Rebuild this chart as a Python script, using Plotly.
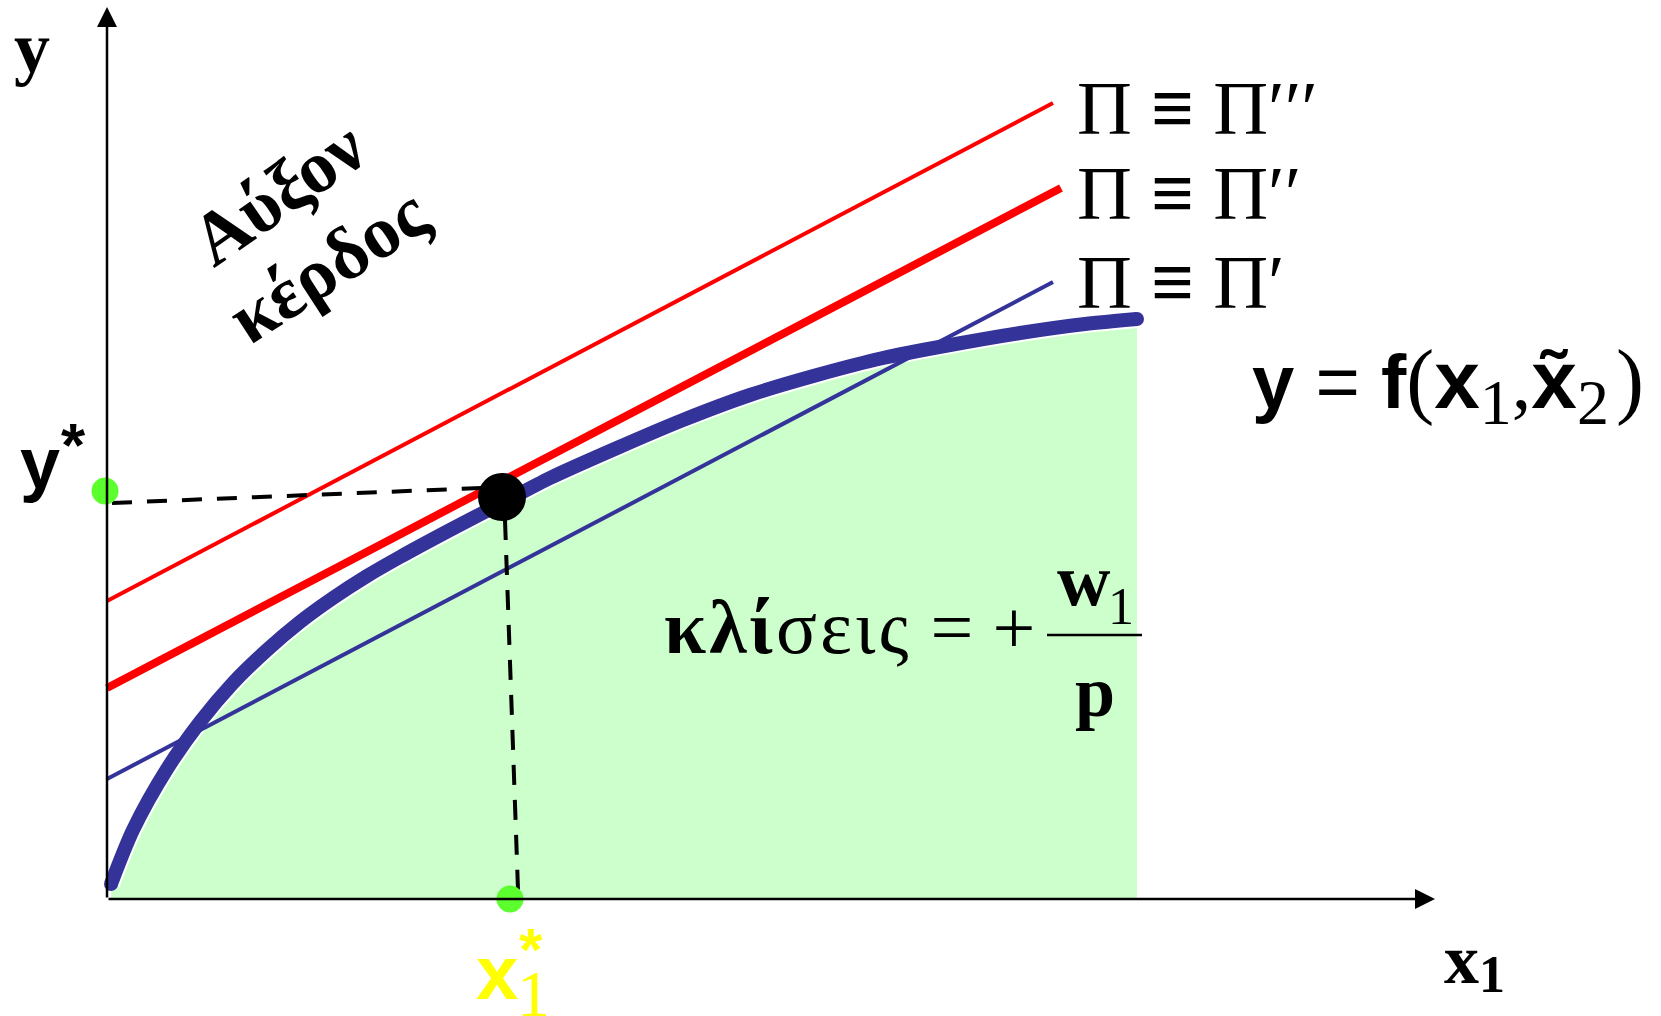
import plotly.graph_objects as go

# ---- data (units: pixels from the origin of the diagram) ----
curve_x = [4, 26, 60, 93, 126, 160, 193, 226, 260, 293, 343, 395, 443, 510, 576, 643, 710, 776, 843, 913, 978, 1030]
curve_y = [15, 69, 130, 177, 216, 249, 277, 301, 323, 342, 369, 396, 421, 451, 479, 504, 524, 541, 554, 566, 575, 580]

pi3_x = [0, 946]
pi3_y = [298, 796]
pi2_x = [0, 954]
pi2_y = [211, 711]
pi1_x = [0, 946]
pi1_y = [120, 617]

opt_x = [395]
opt_y = [402]

ystar_dot_x = [-2]
ystar_dot_y = [408]
xstar_dot_x = [403]
xstar_dot_y = [0]

hdash_x = [5, 375]
hdash_y = [396, 411]
vdash_x = [398, 411]
vdash_y = [379, 9]

x_axis_end = 1328
y_axis_end = 892

SERIF = "Liberation Serif"
SANS = "Liberation Sans"
NAVY = "#333399"
RED = "#FF0000"
GREEN_FILL = "#CCFFCC"
DOT_GREEN = "#5CFF2E"
YELLOW = "#FFFF00"

fig = go.Figure()

# green area under production function
fig.add_trace(go.Scatter(x=curve_x, y=curve_y, mode="lines", fill="tozeroy",
                         fillcolor=GREEN_FILL, line=dict(width=0, color=GREEN_FILL, shape="spline", smoothing=0.8),
                         hoverinfo="skip", showlegend=False))
# white halo under curve
fig.add_trace(go.Scatter(x=curve_x, y=curve_y, mode="lines",
                         line=dict(width=18, color="white", shape="spline", smoothing=0.8),
                         hoverinfo="skip", showlegend=False))
# iso-profit lines
fig.add_trace(go.Scatter(x=pi1_x, y=pi1_y, mode="lines", line=dict(width=4, color=NAVY), showlegend=False))
fig.add_trace(go.Scatter(x=pi3_x, y=pi3_y, mode="lines", line=dict(width=4, color=RED), showlegend=False))
fig.add_trace(go.Scatter(x=pi2_x, y=pi2_y, mode="lines", line=dict(width=8, color=RED), showlegend=False))
# production function
fig.add_trace(go.Scatter(x=curve_x, y=curve_y, mode="lines",
                         line=dict(width=14, color=NAVY, shape="spline", smoothing=0.8),
                         showlegend=False))
fig.add_trace(go.Scatter(x=[curve_x[0], curve_x[-1]], y=[curve_y[0], curve_y[-1]], mode="markers",
                         marker=dict(size=14, color=NAVY, line=dict(width=0)), showlegend=False))
# dashed guides
fig.add_trace(go.Scatter(x=hdash_x, y=hdash_y, mode="lines", line=dict(width=4, color="black", dash="20px,15px"),
                         showlegend=False))
fig.add_trace(go.Scatter(x=vdash_x, y=vdash_y, mode="lines", line=dict(width=4, color="black", dash="20px,15px"),
                         showlegend=False))
# dots
fig.add_trace(go.Scatter(x=ystar_dot_x + xstar_dot_x, y=ystar_dot_y + xstar_dot_y, mode="markers",
                         marker=dict(size=27, color=DOT_GREEN, line=dict(width=0)), showlegend=False))
fig.add_trace(go.Scatter(x=opt_x, y=opt_y, mode="markers",
                         marker=dict(size=48, color="black", line=dict(width=0)), showlegend=False))

# axes with arrows
for (hx, hy) in [(0, y_axis_end), (x_axis_end, 0)]:
    fig.add_annotation(x=hx, y=hy, ax=0, ay=0, xref="x", yref="y", axref="x", ayref="y",
                       text="", showarrow=True, arrowhead=2, arrowsize=1.6, arrowwidth=2.5,
                       arrowcolor="black", standoff=0, startstandoff=0)


def txt(x, y, s, size, family=SERIF, color="black", xanchor="center", yanchor="middle", angle=0):
    fig.add_annotation(x=x, y=y, xref="x", yref="y", text=s, showarrow=False,
                       font=dict(family=family, size=size, color=color),
                       xanchor=xanchor, yanchor=yanchor, textangle=angle)


def sp(s, size, family=SERIF):
    return f"<span style='font-family:{family};font-size:{size}px'>{s}</span>"


txt(-75, 851, "<b>y</b>", 72)
txt(171, 706, "<b>Αύξον</b>", 74, angle=-35)
txt(221, 634, "<b>κέρδος</b>", 74, angle=-33)
txt(968, 791, "Π <b>≡</b> Π′′′", 76, xanchor="left")
txt(968, 706, "Π <b>≡</b> Π′′", 76, xanchor="left")
txt(968, 617, "Π <b>≡</b> Π′", 76, xanchor="left")
txt(1143, 514,
    "<b>y</b> = <b>f</b>" + sp("(", 84) + sp("<b>x</b>", 82, SANS) + "<sub>" + sp("1", 64) + "</sub>"
    + sp(",", 78) + sp("<b>x̃</b>", 82, SANS) + "<sub>" + sp("2", 64) + "</sub>" + sp("\u200a)", 84),
    76, family=SANS, xanchor="left")
txt(-67, 436, "<b>y</b>", 72, family=SANS)
txt(-34, 455, "<b>*</b>", 62, family=SANS)
txt(390, -73, "<b>x</b>", 76, family=SANS, color=YELLOW)
txt(426, -94, "1", 66, family=SERIF, color=YELLOW)
txt(424, -50, "<b>*</b>", 60, family=SANS, color=YELLOW)
txt(1354, -60, "<b>x</b>", 70)
txt(1385, -75, "<b>1</b>", 52)
txt(555, 272, "<span style='letter-spacing:3px'><b>κλί</b>σεις</span> = +", 76, xanchor="left")
txt(977, 319, "<b>w</b>", 74)
txt(1014, 293, "1", 52)
txt(988, 207, "<b>p</b>", 72)
fig.add_shape(type="line", x0=940, x1=1035, y0=264, y1=264, xref="x", yref="y",
              line=dict(color="black", width=2.5))

fig.update_layout(
    width=1661, height=1016, margin=dict(l=0, r=0, t=0, b=0),
    paper_bgcolor="white", plot_bgcolor="white",
    xaxis=dict(range=[-107, 1554], visible=False, fixedrange=True),
    yaxis=dict(range=[-117, 899], visible=False, fixedrange=True),
    showlegend=False,
)
fig.write_html("out.html", config={"displayModeBar": False},
               post_script="document.body.style.margin='0';")
